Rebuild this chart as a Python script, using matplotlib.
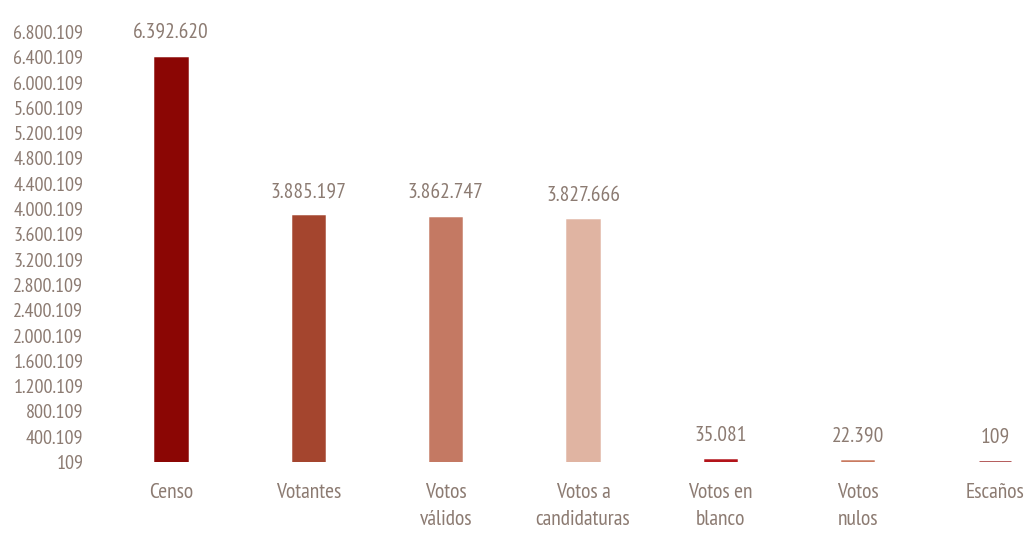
import matplotlib
matplotlib.use('Agg')
import matplotlib.pyplot as plt
import numpy as np

categories = ['Censo', 'Votantes', 'Votos\nválidos', 'Votos a\ncandidaturas',
              'Votos en\nblanco', 'Votos\nnulos', 'Escaños']
values = [6392620, 3885197, 3862747, 3827666, 35081, 22390, 109]
bar_colors = ['#8b0604', '#a4452e', '#c47963', '#e0b4a2', '#b3141a', '#c97a60', '#9e2a2a']
yticks = [109 + 400000 * i for i in range(18)]

text_color = '#8c7b72'
plt.rcParams['font.family'] = ['PT Sans Narrow', 'Asap Condensed', 'Archivo Narrow', 'DejaVu Sans']


def fmt(v):
    return '{:,}'.format(int(v)).replace(',', '.')


fig = plt.figure(figsize=(10.32, 5.34), dpi=100)
ax = fig.add_axes([100 / 1032, 72 / 534, 930 / 1032, 452 / 534])

x = np.arange(len(categories))
base = 109
ax.bar(x, [v - base for v in values], bottom=base, width=0.23,
       color=bar_colors, edgecolor=bar_colors, linewidth=1.8)

for xi, v in zip(x, values):
    ax.annotate(fmt(v), (xi, v), xytext=(0, 11), textcoords='offset points',
                ha='center', va='bottom', fontsize=15.5, color=text_color)

ax.set_xlim(-0.517, 6.255)
ax.set_ylim(base, base + 452 / 430 * 6800000)
ax.set_yticks(yticks)
ax.set_yticklabels([fmt(t) for t in yticks], fontsize=14.5)
ax.set_xticks(x)
ax.set_xticklabels(categories, linespacing=1.55, fontsize=15.5)
ax.tick_params(axis='both', length=0, colors=text_color)
ax.tick_params(axis='x', pad=15)
ax.tick_params(axis='y', pad=12)
for s in ax.spines.values():
    s.set_visible(False)

fig.savefig('out.png', dpi=100)
